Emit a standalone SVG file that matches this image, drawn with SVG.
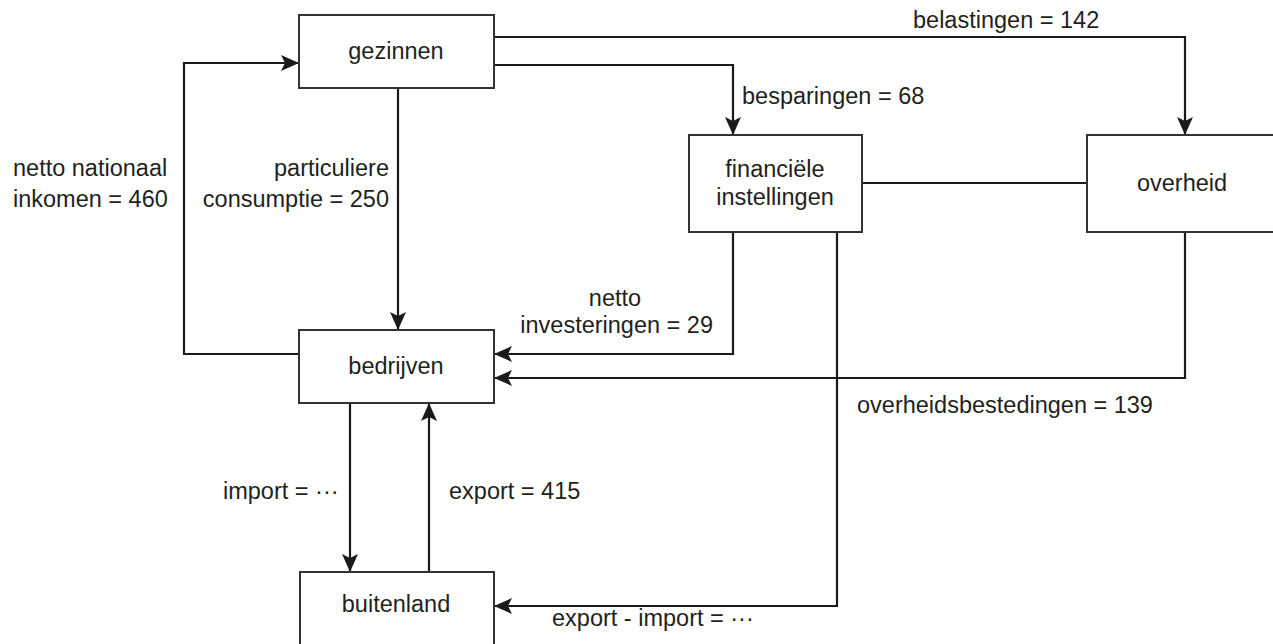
<svg xmlns="http://www.w3.org/2000/svg" width="1273" height="644" viewBox="0 0 1273 644">
<style>
.box{fill:#fff;stroke:#333;stroke-width:2}
.ln{fill:none;stroke:#1a1a1a;stroke-width:2.2}
text{font-family:"Liberation Sans",Arial,sans-serif;font-size:23.5px;fill:#231f20}
.c{text-anchor:middle}
.e{text-anchor:end}
</style>
<defs>
<marker id="ah" viewBox="0 0 18 16" refX="17" refY="8" markerWidth="18" markerHeight="16" markerUnits="userSpaceOnUse" orient="auto">
<path d="M0,0 L18,8 L0,16 L4,8 z" fill="#1a1a1a"/>
</marker>
</defs>
<rect width="1273" height="644" fill="#fff"/>
<g id="connectors">
<polyline class="ln" points="494,37 1185,37 1185,134" marker-end="url(#ah)"/>
<polyline class="ln" points="494,65 733,65 733,134" marker-end="url(#ah)"/>
<polyline class="ln" points="398,88 398,329" marker-end="url(#ah)"/>
<polyline class="ln" points="299,354 184,354 184,63 298,63" marker-end="url(#ah)"/>
<polyline class="ln" points="733,232 733,354 495,354" marker-end="url(#ah)"/>
<polyline class="ln" points="1185,232 1185,378 495,378" marker-end="url(#ah)"/>
<line class="ln" x1="862" y1="183" x2="1087" y2="183"/>
<polyline class="ln" points="837,232 837,606 495,606" marker-end="url(#ah)"/>
<polyline class="ln" points="350,403 350,571" marker-end="url(#ah)"/>
<polyline class="ln" points="429,572 429,404" marker-end="url(#ah)"/>
</g>
<g id="gezinnen"><rect class="box" x="299" y="15" width="195" height="73"/><text class="c" x="396" y="59">gezinnen</text></g>
<g id="financiele-instellingen"><rect class="box" x="689" y="135" width="173" height="97"/><text class="c" x="775" y="177">financiële</text><text class="c" x="775" y="205">instellingen</text></g>
<g id="overheid"><rect class="box" x="1087" y="135" width="200" height="97"/><text class="c" x="1182" y="191">overheid</text></g>
<g id="bedrijven"><rect class="box" x="299" y="330" width="195" height="73"/><text class="c" x="396" y="374">bedrijven</text></g>
<g id="buitenland"><rect class="box" x="300" y="572" width="194" height="80"/><text class="c" x="396" y="612">buitenland</text></g>
<g id="labels">
<text x="913" y="28">belastingen = 142</text>
<text x="742" y="104">besparingen = 68</text>
<text x="13" y="176">netto nationaal</text>
<text x="13" y="207">inkomen = 460</text>
<text class="e" x="389" y="176">particuliere</text>
<text class="e" x="389" y="207">consumptie = 250</text>
<text class="c" x="615" y="306">netto</text>
<text class="e" x="713" y="333">investeringen = 29</text>
<text x="857" y="413">overheidsbestedingen = 139</text>
<text x="223" y="499">import = ···</text>
<text x="449" y="499">export = 415</text>
<text x="552" y="626">export - import = ···</text>
</g>
</svg>
